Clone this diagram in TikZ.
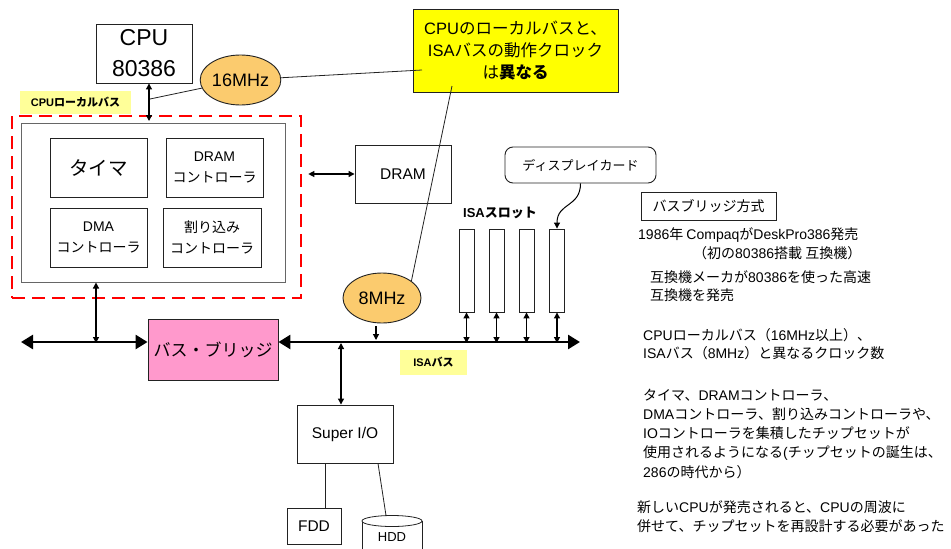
\documentclass[tikz,border=0pt]{standalone}
\usepackage{fontspec}
\usetikzlibrary{arrows.meta,shapes.geometric}
\setmainfont{Liberation Sans}
\newfontfamily\jpfont{Noto Sans CJK JP}
\newfontfamily\latinfont{Liberation Sans}
\chardef\jpclass=10
\newcount\jpcc
\def\setjprange#1#2{\jpcc=#1\relax\loop\XeTeXcharclass\jpcc=\jpclass\relax\ifnum\jpcc<#2\relax\advance\jpcc by 1\relax\repeat}
\setjprange{"3000}{"30FF}
\setjprange{"4E00}{"9FFF}
\setjprange{"FF00}{"FFEF}
\XeTeXinterchartoks 0 \jpclass = {\jpfont}
\XeTeXinterchartoks 4095 \jpclass = {\jpfont}
\XeTeXinterchartoks \jpclass 0 = {\latinfont}
\XeTeXinterchartoks 4095 0 = {\latinfont}
\definecolor{ylw}{HTML}{FFFF00}
\definecolor{lylw}{HTML}{FFFF99}
\definecolor{orng}{HTML}{FBCB6E}
\definecolor{pnk}{HTML}{FF99CC}
\definecolor{edge}{HTML}{222222}
\tikzset{
  bx/.style={draw=edge, line width=0.9pt, inner sep=0pt, align=center},
  ell/.style={ellipse, draw=edge, line width=0.9pt, fill=orng, inner sep=0pt, font=\fontsize{18}{20}\selectfont},
  arr/.style={line width=1.2pt, {Triangle[length=6pt,width=6pt]}-{Triangle[length=6pt,width=6pt]}},
  arrone/.style={line width=1.2pt, -{Triangle[length=6pt,width=6pt]}},
  busln/.style={line width=2.6pt, {Triangle[length=12pt,width=14pt]}-{Triangle[length=12pt,width=14pt]}},
  thin/.style={line width=0.8pt, draw=edge},
  rtext/.style={anchor=west, inner sep=0pt, font=\fontsize{14}{17}\selectfont},
  slotbox/.style={draw=edge, line width=0.9pt, minimum width=15pt, minimum height=83pt, inner sep=0pt},
}
\begin{document}
\XeTeXinterchartokenstate=1
\begin{tikzpicture}[x=1pt,y=-1pt]
\useasboundingbox (0,0) rectangle (951,549);
\fill[white] (0,0) rectangle (951,549);

% CPU
\node[bx, minimum width=96pt, minimum height=59pt, font=\fontsize{23}{31}\selectfont] (cpu) at (144,53.5) {CPU\\80386};
\node[ell, minimum width=76pt, minimum height=50pt] (m16) at (240.5,80) {16MHz};
\node[fill=lylw, minimum width=111pt, minimum height=23pt, inner sep=0pt, font=\fontsize{11}{13}\selectfont\bfseries] (cpulbl) at (75.5,102.5) {CPUローカルバス};

% yellow note
\node[bx, fill=ylw, minimum width=205pt, minimum height=83pt, font=\fontsize{16.5}{22}\selectfont] (note) at (515.5,50.5) {CPUのローカルバスと、\\ISAバスの動作クロック\\は{\bfseries 異なる}};
\coordinate (noteA) at (422,70);
\coordinate (noteB) at (452,86);

% chipset
\node[draw=red, line width=2.6pt, dash pattern=on 13pt off 7pt, minimum width=289pt, minimum height=182pt, inner sep=0pt] (chipset) at (156.5,207) {};
\node[draw=black!60, line width=1pt, minimum width=264pt, minimum height=159pt, inner sep=0pt] (inner) at (153,202.5) {};
\node[bx, minimum width=97pt, minimum height=59pt, font=\fontsize{19.5}{24}\selectfont] (timer) at (98.5,167.5) {タイマ};
\node[bx, minimum width=97pt, minimum height=59pt, font=\fontsize{14}{21}\selectfont] (dramc) at (214.5,167.5) {DRAM\\コントローラ};
\node[bx, minimum width=97pt, minimum height=59pt, font=\fontsize{14}{21}\selectfont] (dmac) at (98.5,237.5) {DMA\\コントローラ};
\node[bx, minimum width=98pt, minimum height=59pt, font=\fontsize{14}{21}\selectfont] (intc) at (212,237.5) {割り込み\\コントローラ};

% DRAM
\node[bx, minimum width=96pt, minimum height=58pt, font=\fontsize{15.5}{18}\selectfont] (dram) at (403,174) {DRAM};
\draw[arr] ([xshift=6pt]chipset.east |- dram) -- (dram.west);

% CPU arrow
\coordinate (cpuTop) at (149,121);
\coordinate (cpuMid) at (150,99);
\draw[arr] (cpu.south -| cpuTop) -- (cpuTop);
\draw[thin] (m16) -- (cpuMid);
\draw[thin] (m16) -- (noteA);

% bus
\node[bx, fill=pnk, minimum width=130pt, minimum height=61pt, font=\fontsize{17}{22}\selectfont] (bridge) at (213,349.5) {バス・ブリッジ};
\coordinate (jL) at (96,342);
\coordinate (busLend) at (21,342);
\coordinate (busRend) at (580,342);
\draw[busln] (busLend) -- (bridge.west |- jL);
\draw[busln] (bridge.east |- jL) -- (busRend);
\draw[arr] (inner.south -| jL) -- ([yshift=-1pt]jL);
\node[fill=lylw, minimum width=67pt, minimum height=25pt, inner sep=0pt, font=\fontsize{11}{13}\selectfont\bfseries] (isalbl) at (433.5,362.5) {ISAバス};

% 8MHz
\node[ell, minimum width=78pt, minimum height=50pt] (m8) at (382,298) {8MHz};
\draw[thin] (noteB) -- (m8.30);
\coordinate (j8) at (376,340);
\draw[arrone] (m8.south -| j8) ++(0,3) -- (j8);

% slots
\node[font=\fontsize{13}{15}\selectfont\bfseries, inner sep=0pt] (slotlbl) at (500,213) {ISAスロット};
\node[slotbox] (s1) at (466.5,270.5) {};
\node[slotbox] (s2) at (496.5,270.5) {};
\node[slotbox] (s3) at (526.5,270.5) {};
\node[slotbox] (s4) at (557,270.5) {};
\foreach \s in {s1,s2,s3,s4} \draw[arr] (\s.south) -- ([yshift=-1pt]\s.south |- jL);

\node[bx, rounded corners=8pt, minimum width=151pt, minimum height=36pt, font=\fontsize{13}{15}\selectfont] (disp) at (580.5,165) {ディスプレイカード};
\draw[arrone, line width=1pt] (disp.south) .. controls +(0,24) and +(0,-26) .. (s4.north);

% super I/O
\node[bx, minimum width=96pt, minimum height=58pt, font=\fontsize{15.5}{18}\selectfont] (sio) at (345,434) {Super I/O};
\coordinate (jS) at (341,343);
\draw[arr] (jS) -- (jS |- sio.north);
\node[bx, minimum width=54pt, minimum height=36pt, font=\fontsize{15.5}{18}\selectfont] (fdd) at (314,526) {FDD};
\coordinate (fddx) at (325,0);
\draw[thin] (sio.south -| fddx) -- (fdd.north -| fddx);
% HDD
\draw[thin, fill=white] (362,552) -- (362,521) -- (422,521) -- (422,552);
\draw[thin, fill=white] (392,521) ellipse [x radius=30, y radius=5.5];
\node[font=\fontsize{13}{15}\selectfont, inner sep=0pt] (hdd) at (392,537) {HDD};
\coordinate (hddTop) at (386,515.5);
\coordinate (sioB) at (378,0);
\draw[thin] (sio.south -| sioB) -- (hddTop);

% right texts
\node[bx, minimum width=135pt, minimum height=28pt, font=\fontsize{14}{17}\selectfont] (method) at (708.5,206) {バスブリッジ方式};
\node[rtext] (t1) at (638,235) {1986年 CompaqがDeskPro386発売};
\node[rtext] (t2) at (693,253) {（初の80386搭載 互換機）};
\node[rtext] (t3) at (650,277) {互換機メーカが80386を使った高速};
\node[rtext] (t4) at (650,295) {互換機を発売};
\node[rtext] (t5) at (643,335) {CPUローカルバス（16MHz以上）、};
\node[rtext] (t6) at (643,353) {ISAバス（8MHz）と異なるクロック数};
\node[rtext] (t7) at (643,395) {タイマ、DRAMコントローラ、};
\node[rtext] (t8) at (643,414) {DMAコントローラ、割り込みコントローラや、};
\node[rtext] (t9) at (643,433) {IOコントローラを集積したチップセットが};
\node[rtext] (t10) at (643,453) {使用されるようになる(チップセットの誕生は、};
\node[rtext] (t11) at (643,472) {286の時代から）};
\node[rtext] (t12) at (637,507) {新しいCPUが発売されると、CPUの周波に};
\node[rtext] (t13) at (637,526) {併せて、チップセットを再設計する必要があった};
\end{tikzpicture}
\end{document}
